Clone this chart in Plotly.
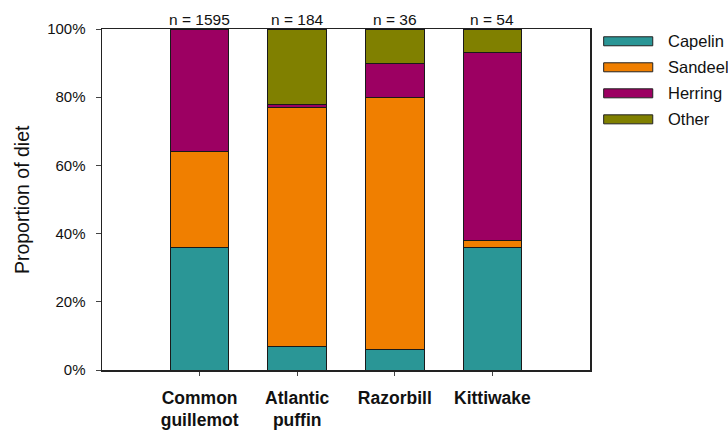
import plotly.graph_objects as go

species = ["Common<br>guillemot", "Atlantic<br>puffin", "Razorbill", "Kittiwake"]
sample_sizes = ["n = 1595", "n = 184", "n = 36", "n = 54"]
prey = ["Capelin", "Sandeel", "Herring", "Other"]
capelin = [36, 7, 6, 36]
sandeel = [28, 70, 74, 2]
herring = [36, 1, 10, 55]
other = [0, 22, 10, 7]
colors = ["#2A9696", "#F07F00", "#9C0062", "#808000"]
y_ticks = [0, 20, 40, 60, 80, 100]
y_tick_labels = ["0%", "20%", "40%", "60%", "80%", "100%"]

series = [capelin, sandeel, herring, other]
x = list(range(len(species)))

fig = go.Figure()
for name, vals, col in zip(prey, series, colors):
    fig.add_trace(go.Bar(
        x=x, y=vals, name=name, width=0.6,
        marker=dict(color=col, line=dict(color="#1a1a1a", width=1)),
        showlegend=False,
    ))

font_family = "Arial, Liberation Sans, sans-serif"

# n labels above bars
for xi, lab in zip(x, sample_sizes):
    fig.add_annotation(x=xi, y=100, yref="y", text=lab, showarrow=False,
                       yanchor="bottom", yshift=-1,
                       font=dict(size=15.5, color="#111", family=font_family))

# custom legend (wide rectangles)
for i, (name, col) in enumerate(zip(prey, colors)):
    yc = 0.964 - i * 0.0763
    fig.add_shape(type="rect", xref="paper", yref="paper",
                  x0=1.028, x1=1.1286, y0=yc - 0.0132, y1=yc + 0.0132,
                  fillcolor=col, line=dict(color="#222", width=1))
    fig.add_annotation(xref="paper", yref="paper", x=1.1566, y=yc,
                       text=name, showarrow=False, xanchor="left", yanchor="middle",
                       font=dict(size=16.5, color="#111", family=font_family))

# y-axis title
fig.add_annotation(xref="paper", yref="paper", x=-0.1648, y=0.5,
                   text="Proportion of diet", textangle=-90, showarrow=False,
                   xanchor="center", yanchor="middle",
                   font=dict(size=19.5, color="#111", family=font_family))

fig.update_layout(
    barmode="stack",
    width=728, height=432,
    margin=dict(l=102, r=137.5, t=29.3, b=62, autoexpand=False),
    plot_bgcolor="white", paper_bgcolor="white",
    font=dict(family=font_family, color="#111"),
    hovermode=False,
)
fig.update_xaxes(
    range=[-1, 4], tickmode="array", tickvals=x, ticktext=["<b>%s</b>" % s for s in species],
    showline=True, linecolor="#222", linewidth=1.5, mirror=True,
    ticks="outside", ticklen=4, tickcolor="#444",
    tickfont=dict(size=17.5, family=font_family, color="#111"),
    ticklabelstandoff=7,
    showgrid=False, zeroline=False, automargin=False,
)
fig.update_yaxes(
    range=[0, 100], tickmode="array", tickvals=y_ticks, ticktext=y_tick_labels,
    showline=True, linecolor="#222", linewidth=1.5, mirror=True,
    ticks="outside", ticklen=5, tickcolor="#444",
    tickfont=dict(size=15, family=font_family, color="#111"),
    ticklabelstandoff=7,
    showgrid=False, zeroline=False, automargin=False,
)

fig.write_html(
    "out.html",
    config={"displayModeBar": False, "staticPlot": True},
    post_script="document.body.style.margin='0';document.body.style.overflow='hidden';",
)
